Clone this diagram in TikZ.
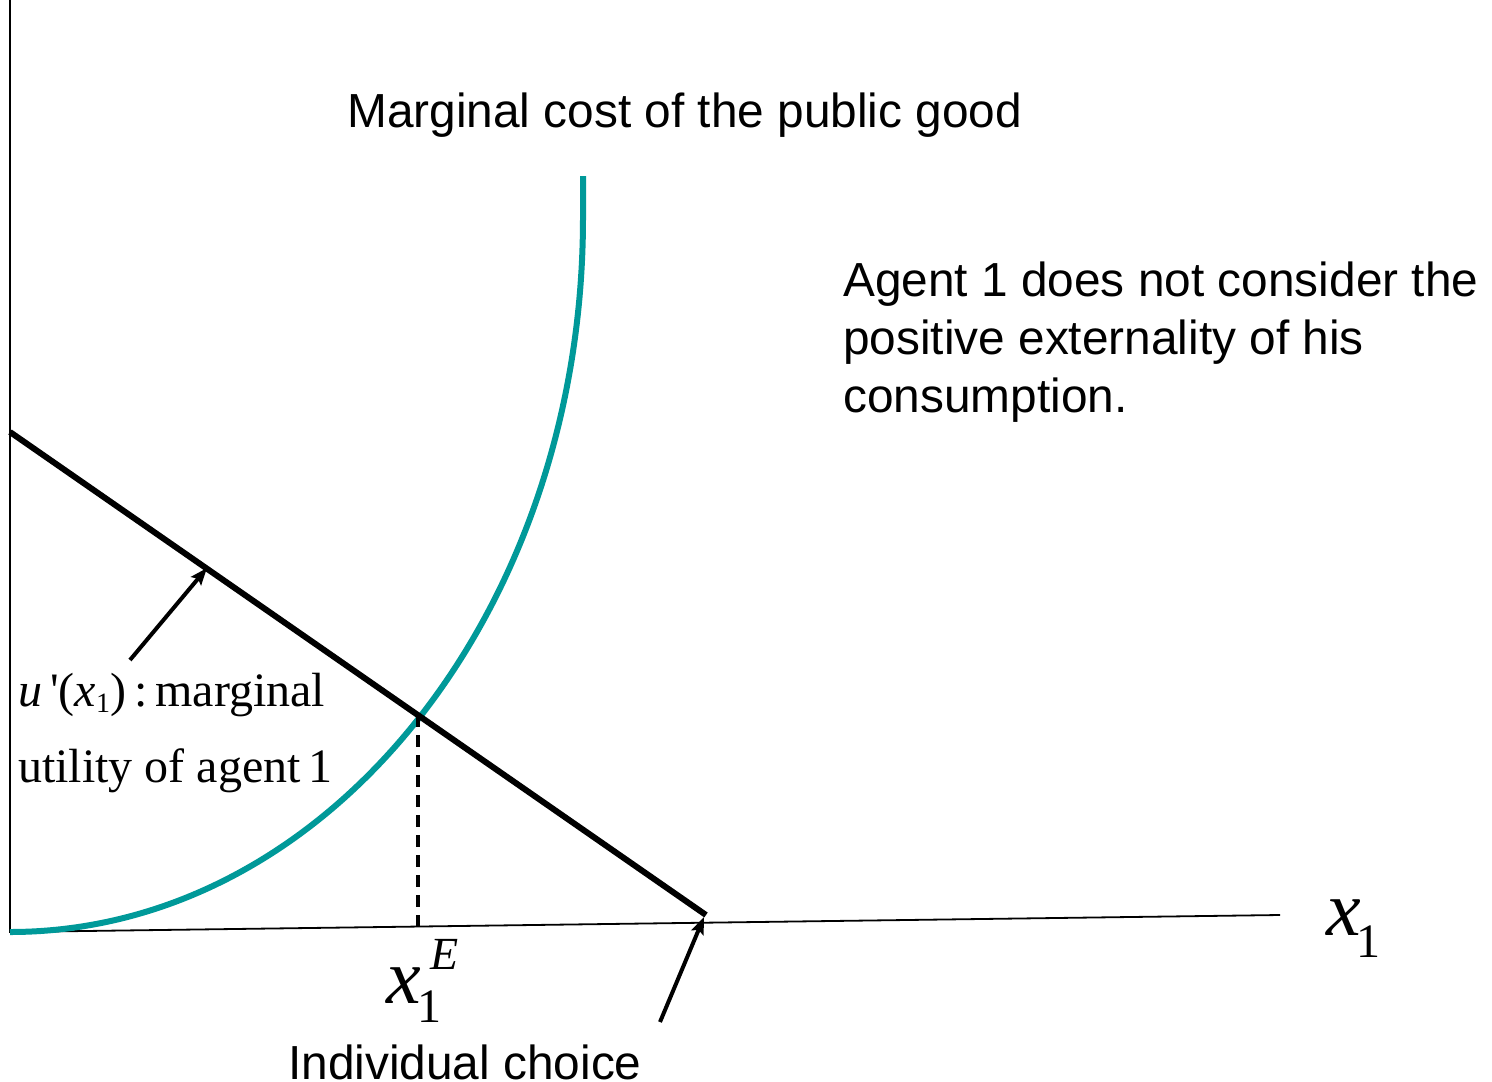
\documentclass[tikz,border=0pt]{standalone}
\usepackage{fontspec}
\newfontfamily\arialf{Liberation Sans}
\newfontfamily\tnrf{Liberation Serif}
\usetikzlibrary{arrows.meta}
\definecolor{tealc}{RGB}{0,153,153}
\tikzset{
  axisline/.style={line width=1.8pt,black},
  mainline/.style={line width=6pt,black},
  costcurve/.style={line width=6pt,tealc},
  guide/.style={line width=4pt,black,dash pattern=on 12pt off 8pt},
  pointer/.style={line width=4pt,black,-{Stealth[length=17pt,width=13pt,inset=3pt]}},
  sanslabel/.style={inner sep=0pt,anchor=base west,font=\arialf\fontsize{47.8}{58}\selectfont,align=left},
  seriflabel/.style={inner sep=0pt,anchor=base west,font=\tnrf\fontsize{48}{58}\selectfont},
}
\begin{document}
\begin{tikzpicture}[x=1pt,y=-1pt]
\useasboundingbox (0,0) rectangle (1492,1082);
\coordinate (origin) at (10,932);
\coordinate (ytop) at (10,0);
\coordinate (xend) at (1280,915);
\coordinate (lstart) at (10,432);
\coordinate (lend) at (706,915);
\coordinate (inter) at (418,715);
\coordinate (foot) at (418,929);
\coordinate (ctop) at (583,176);
\coordinate (a1s) at (130,660);
\coordinate (a1e) at (207,568);
\coordinate (a2s) at (660,1022);
\coordinate (a2e) at (704,917);
% axes
\draw[axisline] (ytop) -- (origin) -- (xend);
% marginal cost curve
\draw[costcurve] (origin) arc[start angle=90,end angle=0,x radius=573,y radius=714] -- (ctop);
% marginal utility line
\draw[mainline] (lstart) -- (lend);
% dashed guide
\draw[guide] (inter) -- (foot);
% pointers
\draw[pointer] (a1s) -- (a1e);
\draw[pointer] (a2s) -- (a2e);
% texts
\node[sanslabel] (title) at (347,127) {Marginal cost of the public good};
\node[sanslabel] (agent) at (843,412) {Agent 1 does not consider the\\positive externality of his\\consumption.};
\node[sanslabel] (choice) at (288,1079) {Individual choice};
\node[seriflabel] (mu1) at (18,706) {\textit{u}\,'(\textit{x}{\fontsize{28}{30}\selectfont\raisebox{-6pt}{1}})\,:\,marginal};
\node[seriflabel] (mu2) at (18,782) {utility of agent\,1};
\node[inner sep=0pt,anchor=base west,font=\tnrf\itshape\fontsize{78}{80}\selectfont] (xax) at (1326,935) {x};
\node[inner sep=0pt,anchor=base west,font=\tnrf\fontsize{48}{50}\selectfont] (xaxsub) at (1356,957) {1};
\node[inner sep=0pt,anchor=base west,font=\tnrf\itshape\fontsize{78}{80}\selectfont] (xe) at (386,1003) {x};
\node[inner sep=0pt,anchor=base west,font=\tnrf\fontsize{48}{50}\selectfont] (xesub) at (417,1022) {1};
\node[inner sep=0pt,anchor=base west,font=\tnrf\itshape\fontsize{46}{50}\selectfont] (xesup) at (430,969) {E};
\end{tikzpicture}
\end{document}
